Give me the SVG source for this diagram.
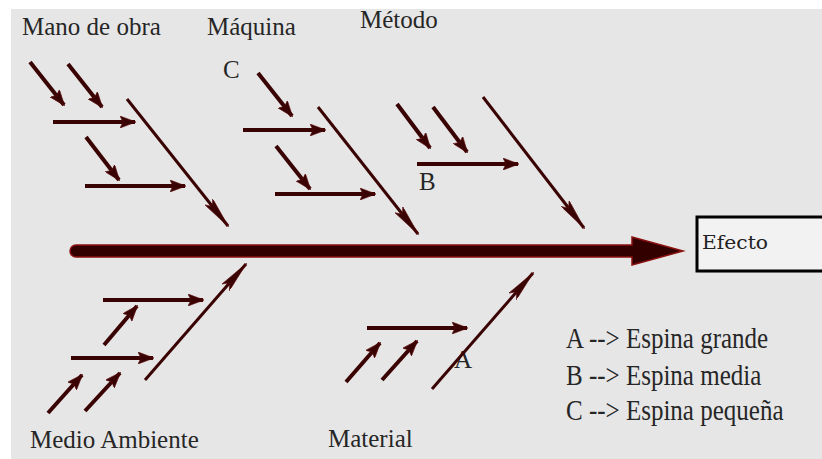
<svg xmlns="http://www.w3.org/2000/svg" width="822" height="459" viewBox="0 0 822 459">
<defs>
<style>
.bg{fill:#e6e6e6}
.t{font-family:"Liberation Serif","Times New Roman",serif;font-size:25px;fill:#262626}
.s{stroke:#3a0303;stroke-width:4;fill:none;marker-end:url(#sm)}
.b{stroke:#3a0303;stroke-width:3;fill:none;marker-end:url(#bm)}
</style>
<marker id="sm" viewBox="0 0 16 12" refX="15" refY="6" markerWidth="16" markerHeight="12" markerUnits="userSpaceOnUse" orient="auto">
<path d="M0,0 L16,6 L0,12 L3,6 z" fill="#3a0303" stroke="#5a0a0a" stroke-width="0.6"/>
</marker>
<marker id="bm" viewBox="0 0 32 10" refX="31" refY="5" markerWidth="32" markerHeight="10" markerUnits="userSpaceOnUse" orient="auto">
<path d="M0,0 L32,5 L0,10 L6,5 z" fill="#3a0303" stroke="#5a0a0a" stroke-width="0.6"/>
</marker>
</defs>
<rect x="0" y="0" width="822" height="459" fill="#ffffff"/>
<rect class="bg" x="11" y="9" width="811" height="450"/>

<g id="connectors">
<path d="M76,245 L632,245 L632,237 L683,251 L632,265 L632,257 L76,257 A6,6 0 0 1 76,245 z" fill="#330000" stroke="#8b1010" stroke-width="1.5"/>
</g>

<g id="mano-de-obra">
<text class="t" x="22" y="35">Mano de obra</text>
<line class="b" x1="127" y1="99" x2="228" y2="226"/>
<line class="s" x1="30" y1="62" x2="64" y2="105"/>
<line class="s" x1="68" y1="64" x2="102" y2="107"/>
<line class="s" x1="53" y1="122" x2="135" y2="122"/>
<line class="s" x1="86" y1="137" x2="119" y2="180"/>
<line class="s" x1="85" y1="186" x2="185" y2="186"/>
</g>

<g id="maquina">
<text class="t" x="207" y="35">Máquina</text>
<text class="t" x="223" y="78">C</text>
<line class="b" x1="318" y1="107" x2="418" y2="234"/>
<line class="s" x1="258" y1="73" x2="292" y2="116"/>
<line class="s" x1="243" y1="130" x2="325" y2="130"/>
<line class="s" x1="276" y1="146" x2="310" y2="189"/>
<line class="s" x1="275" y1="194" x2="375" y2="194"/>
</g>

<g id="metodo">
<text class="t" x="360" y="28">Método</text>
<text class="t" x="419" y="190">B</text>
<line class="b" x1="483" y1="97" x2="584" y2="228"/>
<line class="s" x1="397" y1="104" x2="430" y2="148"/>
<line class="s" x1="433" y1="107" x2="467" y2="152"/>
<line class="s" x1="417" y1="164" x2="518" y2="164"/>
</g>

<g id="medio-ambiente">
<text class="t" x="30" y="448">Medio Ambiente</text>
<line class="b" x1="145" y1="380" x2="246" y2="264"/>
<line class="s" x1="103" y1="300" x2="203" y2="300"/>
<line class="s" x1="104" y1="345" x2="137" y2="306"/>
<line class="s" x1="71" y1="358" x2="153" y2="358"/>
<line class="s" x1="48" y1="413" x2="82" y2="375"/>
<line class="s" x1="85" y1="411" x2="120" y2="373"/>
</g>

<g id="material">
<text class="t" x="328" y="447">Material</text>
<text class="t" x="454" y="368">A</text>
<line class="b" x1="432" y1="389" x2="533" y2="273"/>
<line class="s" x1="367" y1="328" x2="467" y2="328"/>
<line class="s" x1="346" y1="382" x2="380" y2="343"/>
<line class="s" x1="382" y1="380" x2="417" y2="341"/>
</g>

<g id="efecto">
<rect x="699" y="219" width="130" height="54" fill="#c8c8c8" opacity="0.6"/>
<rect x="697" y="217" width="130" height="54" fill="#f2f2f2" stroke="#000000" stroke-width="3"/>
<text x="702" y="249" font-family="'DejaVu Serif',serif" font-size="18.5" fill="#222222" textLength="66" lengthAdjust="spacingAndGlyphs">Efecto</text>
</g>

<g id="legend">
<text class="t" transform="translate(566,348) scale(1,1.15)">A --&gt; Espina grande</text>
<text class="t" transform="translate(566,385) scale(1,1.15)">B --&gt; Espina media</text>
<text class="t" transform="translate(566,420) scale(1,1.15)">C --&gt; Espina pequeña</text>
</g>
</svg>
